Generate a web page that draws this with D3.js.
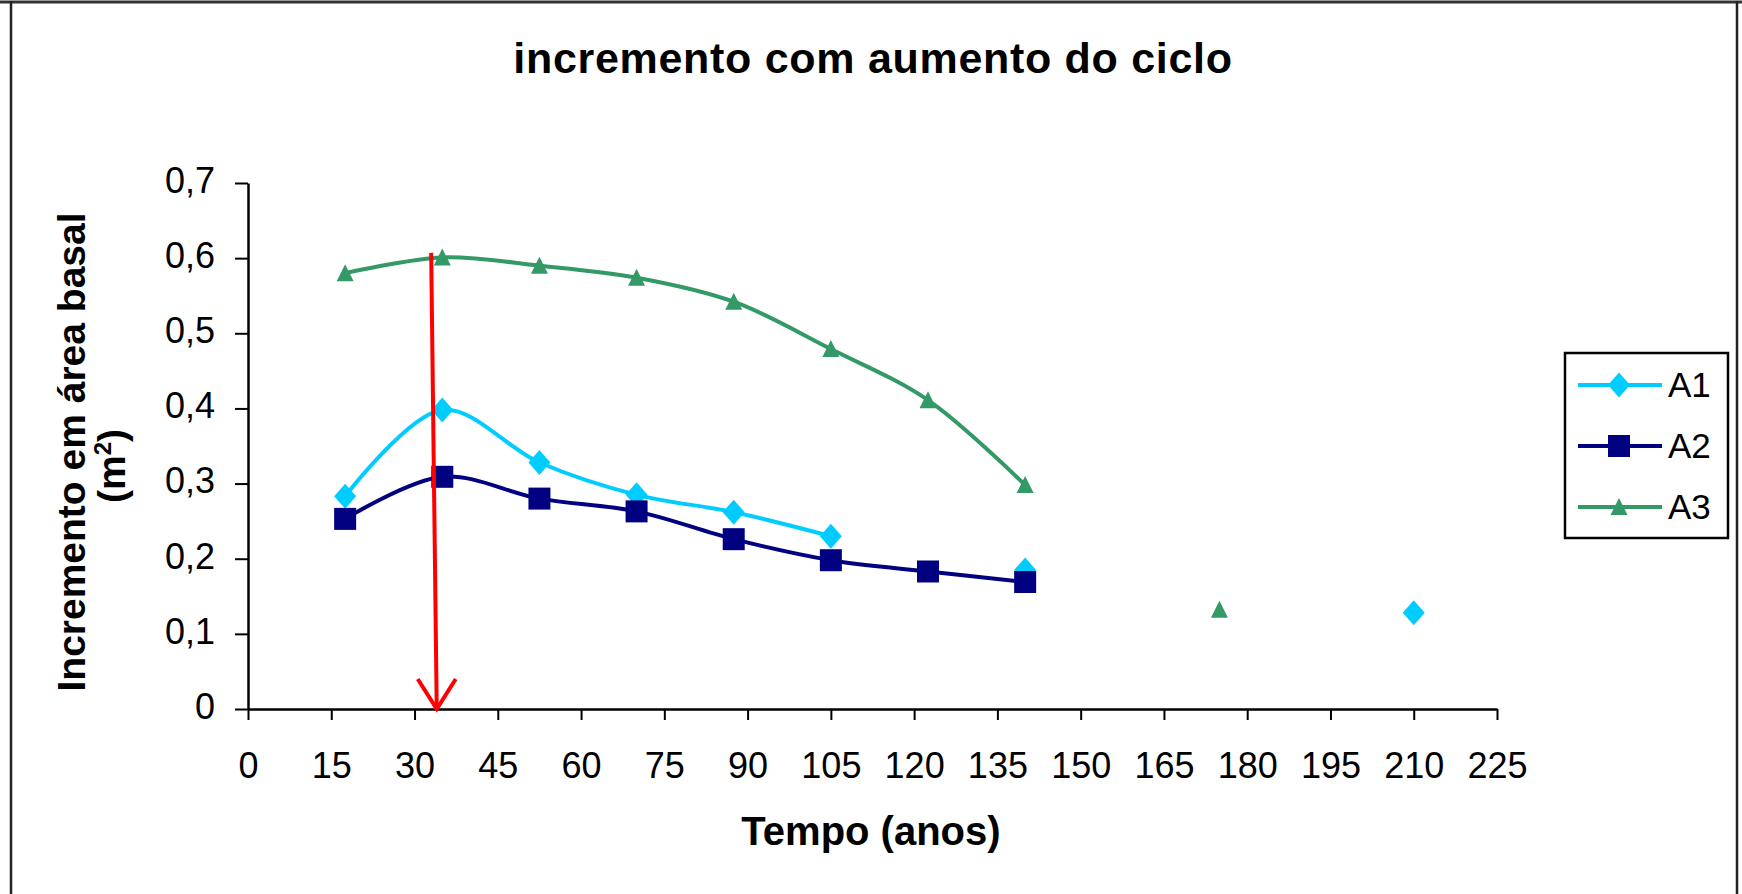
<!DOCTYPE html>
<html>
<head>
<meta charset="utf-8">
<script src="https://cdn.jsdelivr.net/npm/d3@7"></script>
<style>
  html, body { margin: 0; padding: 0; background: #fff; }
  svg { display: block; font-family: "Liberation Sans", Arial, sans-serif; }
</style>
</head>
<body>
<svg id="chart" width="1742" height="894"></svg>
<script>
// Tempo (anos) for each observation
const years = [17.5, 35, 52.5, 70, 87.5, 105, 122.5, 140, 157.5, 175, 192.5, 210];

// Incremento em área basal (m²) per series; null = no measurement
const serieA1 = [0.283, 0.398, 0.328, 0.285, 0.262, 0.230, null, 0.185, null, null, null, 0.128];
const serieA2 = [0.253, 0.309, 0.280, 0.263, 0.226, 0.198, 0.183, 0.169, null, null, null, null];
const serieA3 = [0.580, 0.601, 0.590, 0.574, 0.542, 0.479, 0.411, 0.298, null, 0.132, null, null];

const seriesNames = ["A1", "A2", "A3"];
const xTicks = d3.range(0, 226, 15);
const yTicks = [0, 0.1, 0.2, 0.3, 0.4, 0.5, 0.6, 0.7];

// Red marker arrow: age of maximum increment
const arrowX = [33, 34];
const arrowY = [0.607, 0];

const colors = { A1: "#00CCFF", A2: "#000080", A3: "#339966" };
const markers = { A1: "diamond", A2: "square", A3: "triangle" };
const values = { A1: serieA1, A2: serieA2, A3: serieA3 };

const svg = d3.select("#chart");

const plot = { left: 248, right: 1497, top: 183, bottom: 709 };
const x = d3.scaleLinear().domain([0, 225]).range([plot.left, plot.right]);
const y = d3.scaleLinear().domain([0, 0.7]).range([plot.bottom, plot.top]);

// chart frame
svg.append("line").attr("x1", 0).attr("x2", 1742).attr("y1", 2).attr("y2", 2)
  .attr("stroke", "#333").attr("stroke-width", 3);
svg.append("line").attr("x1", 11).attr("x2", 11).attr("y1", 1).attr("y2", 894)
  .attr("stroke", "#222").attr("stroke-width", 2.5);
svg.append("line").attr("x1", 1737).attr("x2", 1737).attr("y1", 1).attr("y2", 894)
  .attr("stroke", "#222").attr("stroke-width", 2.5);

// title
svg.append("text")
  .attr("x", 873).attr("y", 73)
  .attr("text-anchor", "middle")
  .attr("font-size", 43).attr("font-weight", "bold")
  .attr("letter-spacing", 0.7)
  .text("incremento com aumento do ciclo");

// axes
const fmt = d => d === 0 ? "0" : d3.format(".1f")(d).replace(".", ",");

const yAxis = svg.append("g")
  .attr("transform", `translate(${plot.left},0)`)
  .call(d3.axisLeft(y).tickValues(yTicks).tickFormat(fmt).tickSize(13).tickSizeOuter(0).tickPadding(20));

const xAxis = svg.append("g")
  .attr("transform", `translate(0,${plot.bottom})`)
  .call(d3.axisBottom(x).tickValues(xTicks).tickSize(11).tickSizeOuter(0).tickPadding(32));

[yAxis, xAxis].forEach(g => {
  g.select(".domain").attr("stroke", "#000").attr("stroke-width", 2.5);
  g.selectAll(".tick line").attr("stroke", "#000").attr("stroke-width", 2);
  g.selectAll(".tick text")
    .attr("fill", "#000")
    .attr("font-size", 36)
    .attr("font-family", "'Liberation Sans', Arial, sans-serif");
});
yAxis.selectAll(".tick text").attr("dy", "0.26em");

// axis titles
svg.append("text")
  .attr("x", 871).attr("y", 845)
  .attr("text-anchor", "middle")
  .attr("font-size", 40).attr("font-weight", "bold")
  .text("Tempo (anos)");

const yTitle = svg.append("text")
  .attr("text-anchor", "middle")
  .attr("font-size", 39).attr("font-weight", "bold");
yTitle.append("tspan")
  .attr("x", 0).attr("y", 0)
  .text("Incremento em área basal");
const unit = yTitle.append("tspan")
  .attr("x", -14).attr("y", 40);
unit.append("tspan").text("(m");
unit.append("tspan").attr("font-size", 24).attr("dy", -14).text("2");
unit.append("tspan").attr("dy", 14).text(")");
yTitle.attr("transform", "translate(85,452) rotate(-90)");

// marker shapes
function markerPath(kind) {
  if (kind === "diamond") return "M0,-12.5L11,0L0,12.5L-11,0Z";
  if (kind === "square") return "M-11,-11H11V11H-11Z";
  return "M0,-9L8.5,8L-8.5,8Z";
}

const line = d3.line()
  .defined(d => d.v !== null)
  .x(d => x(d.t))
  .y(d => y(d.v))
  .curve(d3.curveCatmullRom.alpha(0.5));

seriesNames.forEach(name => {
  const pts = years.map((t, i) => ({ t, v: values[name][i] }));
  const g = svg.append("g");
  g.append("path")
    .datum(pts)
    .attr("d", line)
    .attr("fill", "none")
    .attr("stroke", colors[name])
    .attr("stroke-width", 4)
    .attr("stroke-linejoin", "round");
  g.selectAll("path.mk")
    .data(pts.filter(d => d.v !== null))
    .join("path")
    .attr("class", "mk")
    .attr("d", markerPath(markers[name]))
    .attr("transform", d => `translate(${x(d.t)},${y(d.v)})`)
    .attr("fill", colors[name]);
});

// red arrow
const ax0 = x(arrowX[0]), ay0 = y(arrowY[0]);
const ax1 = x(arrowX[1]), ay1 = y(arrowY[1]);
svg.append("line")
  .attr("x1", ax0).attr("y1", ay0).attr("x2", ax1).attr("y2", ay1)
  .attr("stroke", "#FF0000").attr("stroke-width", 4);
svg.append("path")
  .attr("d", `M${ax1 - 19},${ay1 - 30}L${ax1},${ay1}L${ax1 + 19},${ay1 - 30}`)
  .attr("fill", "none")
  .attr("stroke", "#FF0000").attr("stroke-width", 4);

// legend
const legend = svg.append("g");
legend.append("rect")
  .attr("x", 1565).attr("y", 353).attr("width", 163).attr("height", 185)
  .attr("fill", "#fff").attr("stroke", "#000").attr("stroke-width", 2.5);
const legendY = d3.scalePoint().domain(seriesNames).range([385, 507]);
seriesNames.forEach(name => {
  const ly = legendY(name);
  legend.append("line")
    .attr("x1", 1578).attr("x2", 1662).attr("y1", ly).attr("y2", ly)
    .attr("stroke", colors[name]).attr("stroke-width", 4);
  legend.append("path")
    .attr("d", markerPath(markers[name]))
    .attr("transform", `translate(1619,${ly})`)
    .attr("fill", colors[name]);
  legend.append("text")
    .attr("x", 1668).attr("y", ly + 12)
    .attr("font-size", 35)
    .text(name);
});
</script>
</body>
</html>
